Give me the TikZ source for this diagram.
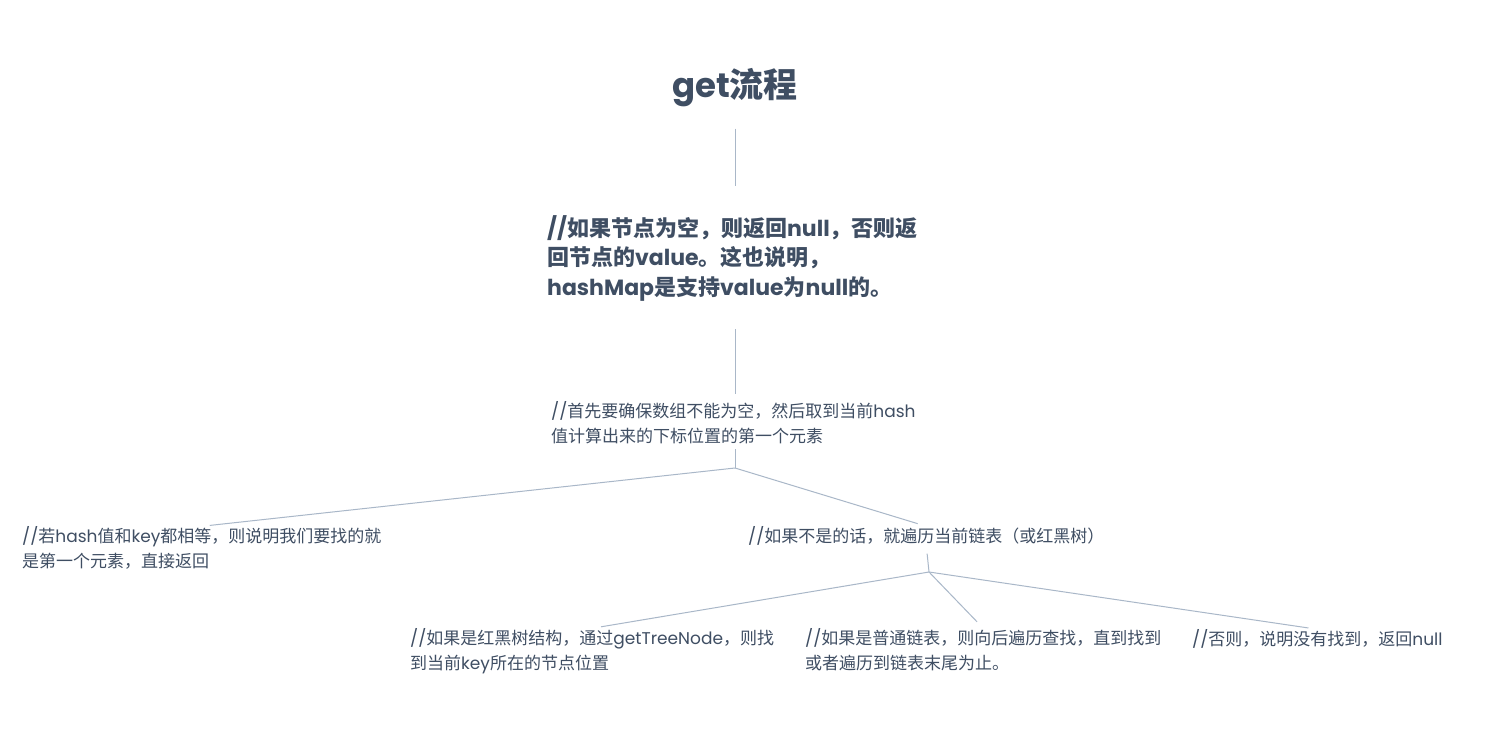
\documentclass[tikz,border=0pt]{standalone}
\usepackage{fontspec}
\setmainfont{Noto Sans CJK SC}
\newfontfamily\latfont{Poppins}
\newcommand{\latn}[1]{{\latfont #1}}
\definecolor{txt}{HTML}{3F4E63}
\definecolor{ln}{HTML}{A9B7C8}
\begin{document}
\begin{tikzpicture}[x=1pt,y=-1pt,
  every node/.style={inner sep=0pt, text=txt},
  plain/.style={font=\fontsize{17}{25}\selectfont, align=left, anchor=base west},
  boldtxt/.style={font=\bfseries\fontsize{22}{29.5}\selectfont, align=left, anchor=base west},
  link/.style={draw=ln, line width=1pt}]
\useasboundingbox[fill=white] (0,0) rectangle (1494,754);
\node[font=\bfseries\fontsize{34}{40}\selectfont, anchor=base] (title) at (735,98) {\latn{get}流程};
\node[boldtxt] (n2) at (547,295) {\latn{//}如果节点为空，则返回\latn{null}，否则返\\回节点的\latn{value}。这也说明，\\\latn{hashMap}是支持\latn{value}为\latn{null}的。};
\node[plain] (n3) at (551,442.5) {\latn{//}首先要确保数组不能为空，然后取到当前\latn{hash}\\值计算出来的下标位置的第一个元素};
\node[plain] (left) at (22,567.5) {\latn{//}若\latn{hash}值和\latn{key}都相等，则说明我们要找的就\\是第一个元素，直接返回};
\node[plain] (nb) at (748,542.5) {\latn{//}如果不是的话，就遍历当前链表（或红黑树）};
\node[plain] (b1) at (410,669.5) {\latn{//}如果是红黑树结构，通过\latn{getTreeNode}，则找\\到当前\latn{key}所在的节点位置};
\node[plain] (b2) at (805,669.5) {\latn{//}如果是普通链表，则向后遍历查找，直到找到\\或者遍历到链表末尾为止。};
\node[plain] (b3) at (1192,645.5) {\latn{//}否则，说明没有找到，返回\latn{null}};
\coordinate (j1) at (735,468);
\coordinate (j2) at (929,572);
\draw[link, shorten <=21pt, shorten >=29pt] (title.south) -- (title.south |- n2.north);
\draw[link, shorten <=28pt, shorten >=7pt] (n2.south -| title.south) -- (title.south |- n3.north);
\draw[link, shorten <=5pt] (n3.south -| title.south) -- (j1);
\draw[link, shorten >=8pt] (j1) -- (left.north);
\draw[link, shorten >=9pt] (j1) -- (nb.north);
\draw[link, shorten <=8pt] (nb.south) -- (j2);
\draw[link, shorten >=9pt] (j2) -- (b1.north);
\draw[link, shorten >=9pt] (j2) -- (b2.north);
\draw[link, shorten >=9pt] (j2) -- (b3.north);
\end{tikzpicture}
\end{document}
